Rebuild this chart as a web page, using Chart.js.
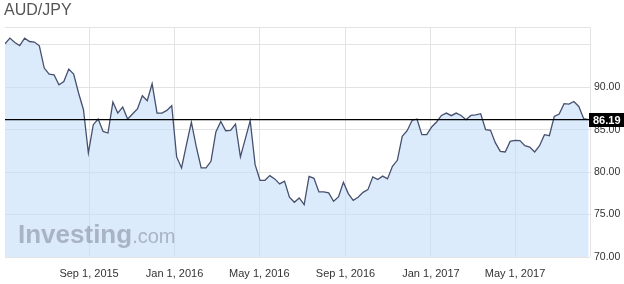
<!DOCTYPE html>
<html>
<head>
<meta charset="utf-8">
<script src="https://cdn.jsdelivr.net/npm/chart.js@4.4.1/dist/chart.umd.min.js"></script>
<style>
  html, body { margin: 0; padding: 0; background: #fff; }
  #wrap { width: 624px; height: 284px; position: relative; }
</style>
</head>
<body>
<div id="wrap"><canvas id="fxChart" width="624" height="284"></canvas></div>
<script>
// weekly closes, AUD/JPY, first week starting May 4, 2015
const firstWeek = '2015-05-04';
const closes = [
  95.12, 95.79, 95.27, 94.92, 95.79, 95.39, 95.32, 94.88, 92.26, 91.55,
  91.47, 90.29, 90.68, 92.14, 91.55, 89.32, 87.35, 82.26, 85.59, 86.26,
  84.80, 84.61, 88.26, 86.96, 87.67, 86.26, 86.85, 87.44, 89.00, 88.41,
  90.41, 86.96, 86.96, 87.27, 87.82, 81.79, 80.49, 83.24, 85.88, 83.00,
  80.49, 80.49, 81.27, 84.73, 85.98, 84.88, 84.92, 85.67, 81.79, 83.91,
  86.06, 80.88, 79.04, 79.04, 79.59, 79.20, 78.61, 78.94, 77.06, 76.45,
  76.96, 76.18, 79.51, 79.27, 77.67, 77.67, 77.55, 76.56, 77.08, 78.80,
  77.47, 76.68, 77.04, 77.62, 77.94, 79.44, 79.12, 79.53, 79.20, 80.68,
  81.39, 84.21, 84.88, 86.09, 86.26, 84.41, 84.41, 85.32, 85.91, 86.68,
  86.96, 86.65, 86.96, 86.68, 86.18, 86.68, 86.74, 86.88, 85.00, 84.92,
  83.44, 82.45, 82.38, 83.62, 83.74, 83.71, 83.12, 82.96, 82.38, 83.12,
  84.41, 84.29, 86.56, 86.85, 88.06, 88.02, 88.33, 87.74, 86.29, 86.19
];
const lastClose = 86.19;

const axisStart = '2015-05-04';
const axisEnd = '2017-08-16';
const tickDates = ['2015-09-01', '2016-01-01', '2016-05-01', '2016-09-01', '2017-01-01', '2017-05-01'];
const tickLabels = ['Sep 1, 2015', 'Jan 1, 2016', 'May 1, 2016', 'Sep 1, 2016', 'Jan 1, 2017', 'May 1, 2017'];
const yTicks = [70, 75, 80, 85, 90, 95];
const yLabelled = [70, 75, 80, 85, 90];
const yMin = 70;
const yMax = 97.1;

function dayNum(s) {
  const p = s.split('-').map(Number);
  return Date.UTC(p[0], p[1] - 1, p[2]) / 86400000;
}

const start = dayNum(firstWeek);
const points = closes.map((v, i) => ({ x: start + i * 7, y: v }));
const xMin = dayNum(axisStart);
const xMax = dayNum(axisEnd);
const tickDays = tickDates.map(dayNum);

const extras = {
  id: 'extras',
  afterDatasetsDraw(chart) {
    const ctx = chart.ctx;
    const a = chart.chartArea;
    ctx.save();
    // watermark
    ctx.textBaseline = 'alphabetic';
    ctx.fillStyle = 'rgba(125, 135, 150, 0.55)';
    ctx.font = 'bold 26px "Liberation Sans", Arial, sans-serif';
    ctx.fillText('Investing', 18, 243);
    const w = ctx.measureText('Investing').width;
    ctx.font = '20px "Liberation Sans", Arial, sans-serif';
    ctx.fillText('.com', 18 + w, 243);
    // top and right frame
    ctx.strokeStyle = '#e3e3e3';
    ctx.lineWidth = 1;
    ctx.beginPath();
    ctx.moveTo(a.left, a.top + 0.5);
    ctx.lineTo(a.right + 0.5, a.top + 0.5);
    ctx.lineTo(a.right + 0.5, a.bottom);
    ctx.stroke();
    ctx.restore();
  },
  afterDraw(chart) {
    const ctx = chart.ctx;
    const a = chart.chartArea;
    const y = chart.scales.y.getPixelForValue(lastClose);
    ctx.save();
    // title
    ctx.fillStyle = '#555';
    ctx.font = '16px "Liberation Sans", Arial, sans-serif';
    ctx.textBaseline = 'alphabetic';
    ctx.fillText('AUD/JPY', 4, 15);
    // last price tag
    ctx.fillStyle = '#000';
    ctx.fillRect(a.right - 1, Math.round(y) - 7, 624 - a.right + 1, 14);
    ctx.fillStyle = '#fff';
    ctx.font = 'bold 11px "Liberation Sans", Arial, sans-serif';
    ctx.textBaseline = 'middle';
    ctx.fillText(lastClose.toFixed(2), a.right + 3, Math.round(y) + 0.5);
    ctx.restore();
  }
};

new Chart(document.getElementById('fxChart').getContext('2d'), {
  type: 'line',
  data: {
    datasets: [
      {
        label: 'AUD/JPY',
        data: points,
        borderColor: '#46506e',
        borderWidth: 1.3,
        backgroundColor: 'rgba(196, 221, 250, 0.6)',
        fill: 'start',
        pointRadius: 0,
        tension: 0,
        order: 2
      },
      {
        label: 'last',
        data: [{ x: xMin, y: lastClose }, { x: xMax, y: lastClose }],
        borderColor: '#000',
        borderWidth: 1.3,
        fill: false,
        pointRadius: 0,
        order: 1
      }
    ]
  },
  options: {
    responsive: false,
    animation: false,
    layout: { padding: { top: 27, left: 5, right: 0, bottom: 0 } },
    plugins: {
      legend: { display: false },
      title: { display: false },
      tooltip: { enabled: false }
    },
    scales: {
      x: {
        type: 'linear',
        min: xMin,
        max: xMax,
        afterBuildTicks: (s) => { s.ticks = tickDays.map(v => ({ value: v })); },
        afterFit: (s) => { s.height = 27; },
        grid: { color: '#e3e3e3', drawTicks: false },
        border: { display: false },
        ticks: {
          autoSkip: false,
          maxRotation: 0,
          padding: 10,
          color: '#333',
          font: { family: '"Liberation Sans", Arial, sans-serif', size: 11 },
          callback: (v, i) => tickLabels[i]
        }
      },
      y: {
        position: 'right',
        min: yMin,
        max: yMax,
        afterBuildTicks: (s) => { s.ticks = yTicks.map(v => ({ value: v })); },
        afterFit: (s) => { s.width = 34; },
        grid: { color: '#e3e3e3', drawTicks: false },
        border: { display: false },
        ticks: {
          padding: 4,
          color: '#333',
          font: { family: '"Liberation Sans", Arial, sans-serif', size: 10.5 },
          callback: (v) => yLabelled.includes(v) ? v.toFixed(2) : ''
        }
      }
    }
  },
  plugins: [extras]
});
</script>
</body>
</html>
